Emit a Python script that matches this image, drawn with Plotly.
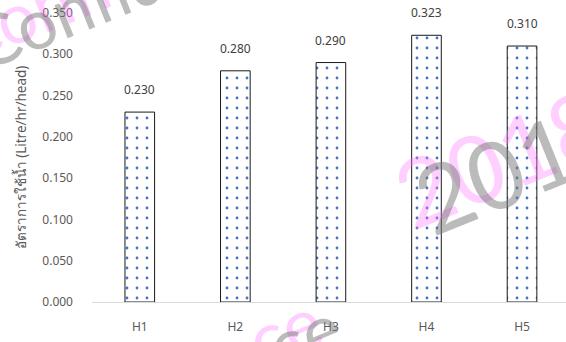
import plotly.graph_objects as go

categories = ["H1", "H2", "H3", "H4", "H5"]
values = [0.230, 0.280, 0.290, 0.323, 0.310]
y_ticks = [0.0, 0.05, 0.10, 0.15, 0.20, 0.25, 0.30, 0.35]
y_title = "อัตราการใช้น้ำ (Litre/hr/head)"

W, H = 566, 342
ML, MR, MT, MB = 92, 0, 13, 40
PW, PH = W - ML - MR, H - MT - MB

def px(x):
    return (x - ML) / PW

def py(y):
    return (H - MB - y) / PH

fig = go.Figure()
fig.add_trace(go.Bar(
    x=categories, y=values,
    width=0.31,
    marker=dict(
        color="white",
        line=dict(color="#1a1a1a", width=1),
        pattern=dict(shape=".", fgcolor="#4472c4", bgcolor="white", fgopacity=1,
                     size=10, solidity=0.06),
    ),
    cliponaxis=False,
))

for c, v in zip(categories, values):
    fig.add_annotation(
        x=c, y=v, xref="x", yref="y", text=f"{v:.3f}", showarrow=False,
        xanchor="center", yanchor="bottom", yshift=12,
        font=dict(size=12, color="#404040", family="Noto Sans, DejaVu Sans, sans-serif"),
    )

wm_font = "Lato, Open Sans, sans-serif"
pink = "rgba(255,120,255,0.35)"
gray = "rgba(120,120,120,0.5)"
# (text, centre x, centre y of the pink copy in pixels, font size)
marks = [
    ("Confidential", 127, -29, 70),
    ("2018", 500, 156, 94),
    ("ce", 284, 329, 72),
]
for text, cx, cy, size in marks:
    for col, dx, dy in [(pink, 0, 0), (gray, 20, 6)]:
        fig.add_annotation(
            x=px(cx + dx), y=py(cy + dy), xref="paper", yref="paper",
            xanchor="center", yanchor="middle",
            text=text, showarrow=False, textangle=-22,
            font=dict(size=size, color=col, family=wm_font, weight=400),
        )

fig.update_layout(
    width=W, height=H,
    margin=dict(l=ML, r=MR, t=MT, b=MB, pad=0, autoexpand=False),
    plot_bgcolor="white", paper_bgcolor="white",
    showlegend=False,
    font=dict(family="Noto Sans, DejaVu Sans, sans-serif", color="#595959", size=12),
    xaxis=dict(
        range=[-0.5, 4.46], showgrid=False, showline=True, linecolor="#d9d9d9",
        linewidth=1, ticks="", ticklabelstandoff=14,
        tickfont=dict(size=12, color="#595959"),
    ),
    yaxis=dict(
        range=[0, 0.35], tickvals=y_ticks, tickformat=".3f", showgrid=False,
        zeroline=False, showline=False, ticks="", ticklabelstandoff=18,
        tickfont=dict(size=12, color="#595959"),
        title=dict(text=y_title, font=dict(size=13.5, color="#595959"), standoff=12),
    ),
)

fig.write_html("out.html")
